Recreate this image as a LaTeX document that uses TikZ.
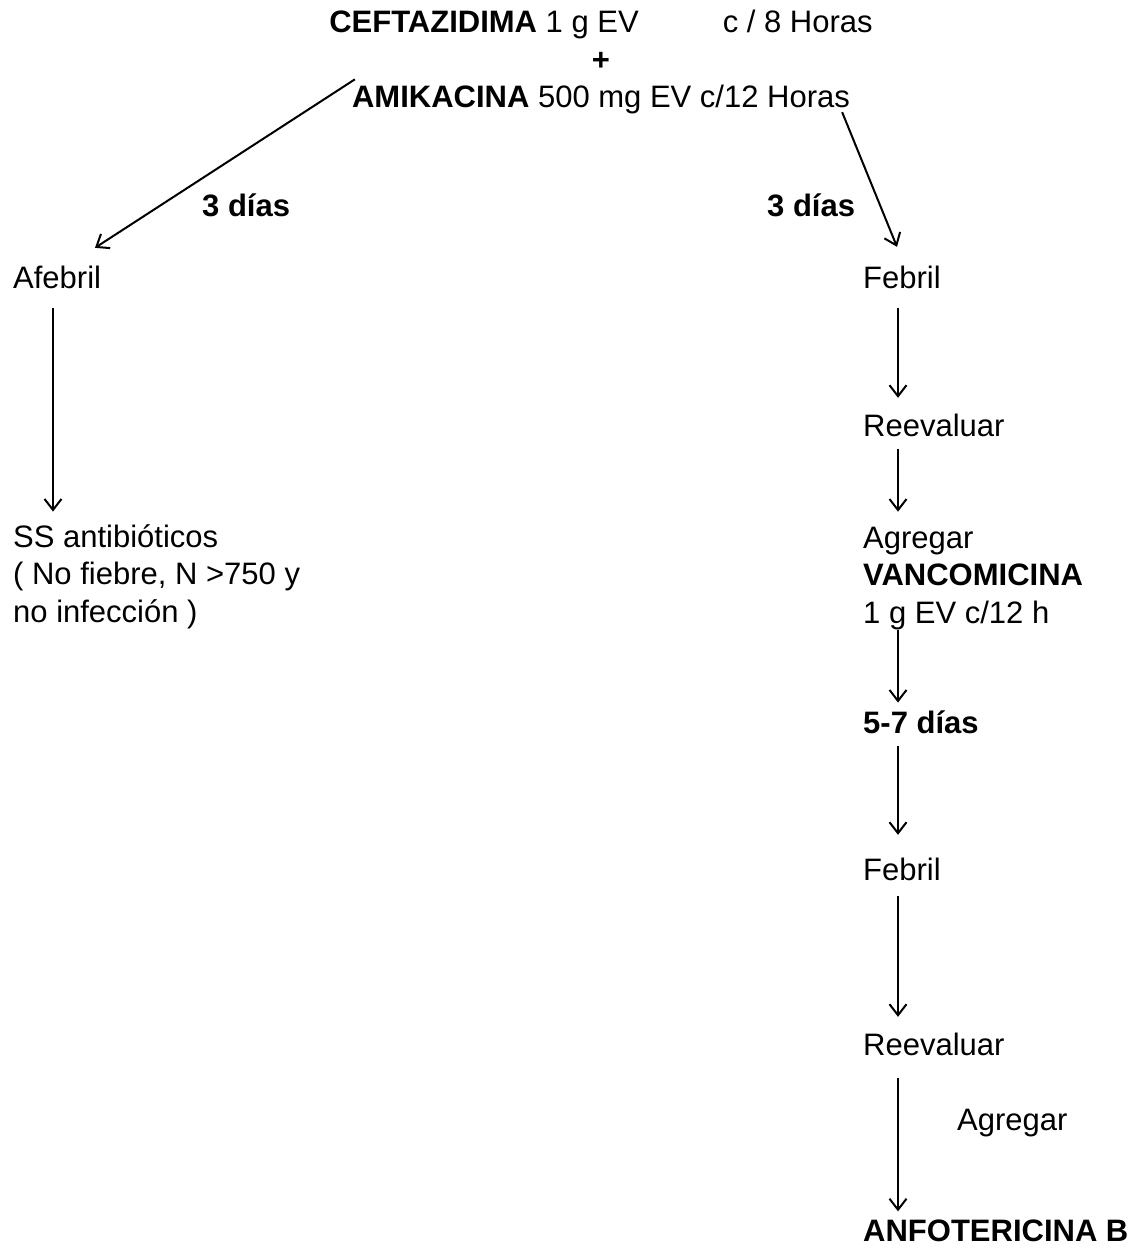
\documentclass[tikz,border=0pt]{standalone}
\usepackage{fontspec}
\setmainfont{Liberation Sans}
\usetikzlibrary{arrows.meta}

\begin{document}
\begin{tikzpicture}[x=1pt, y=-1pt,
    txt/.style={inner sep=0pt, font=\fontsize{31}{37.5}\selectfont},
    lbl/.style={txt, anchor=base west, align=left},
    arr/.style={line width=2pt, -{Straight Barb[length=11pt,width=17pt]}}]
  \useasboundingbox (0,0) rectangle (1139,1254);

  \node[txt, anchor=base] (ceft) at (601,32) {\textbf{CEFTAZIDIMA} 1 g EV\hspace{84pt}c / 8 Horas};
  \node[txt, anchor=base] (plus) at (601,70) {\textbf{+}};
  \node[txt, anchor=base] (amik) at (601,107) {\textbf{AMIKACINA} 500 mg EV c/12 Horas};

  \node[lbl] (dias3a) at (202,216) {\textbf{3 días}};
  \node[lbl] (dias3b) at (767,216) {\textbf{3 días}};

  \node[lbl] (afeb) at (13,288) {Afebril};
  \node[lbl] (ss) at (13,622) {SS antibióticos\\( No fiebre, N >750 y\\no infección )};

  \node[lbl] (feb1) at (863,288) {Febril};
  \node[lbl] (reev1) at (863,436) {Reevaluar};
  \node[lbl] (agr) at (863,623) {Agregar\\\textbf{VANCOMICINA}\\1 g EV c/12 h};
  \node[lbl] (d57) at (863,733) {\textbf{5-7 días}};
  \node[lbl] (feb2) at (863,880) {Febril};
  \node[lbl] (reev2) at (863,1055) {Reevaluar};
  \node[lbl] (agr2) at (957,1130) {Agregar};
  \node[lbl] (anfo) at (863,1241) {\textbf{ANFOTERICINA B}};

  \draw[arr] ([xshift=3pt,yshift=5pt]amik.north west) -- ([xshift=82pt,yshift=17.5pt]afeb.north west);
  \draw[arr] ([xshift=-8pt,yshift=1.5pt]amik.south east) -- ([xshift=34pt,yshift=18.5pt]feb1.north west);

  \draw[arr] ([xshift=40pt,yshift=-19pt]afeb.south west) -- ([xshift=40pt,yshift=12.4pt]ss.north west);

  \draw[arr] ([xshift=35pt,yshift=-19pt]feb1.south west) -- ([xshift=35pt,yshift=15.5pt]reev1.north west);
  \draw[arr] ([xshift=35pt,yshift=-12pt]reev1.south west) -- ([xshift=35pt,yshift=14.8pt]agr.north west);
  \draw[arr] ([xshift=35pt]agr.south west) -- ([xshift=35pt,yshift=7.5pt]d57.north west);
  \draw[arr] ([xshift=35pt,yshift=-12pt]d57.south west) -- ([xshift=35pt,yshift=22.5pt]feb2.north west);
  \draw[arr] ([xshift=35pt,yshift=-15pt]feb2.south west) -- ([xshift=35pt,yshift=15.5pt]reev2.north west);
  \draw[arr] ([xshift=35pt,yshift=-22pt]reev2.south west) -- ([xshift=35pt,yshift=7.8pt]anfo.north west);
\end{tikzpicture}
\end{document}
